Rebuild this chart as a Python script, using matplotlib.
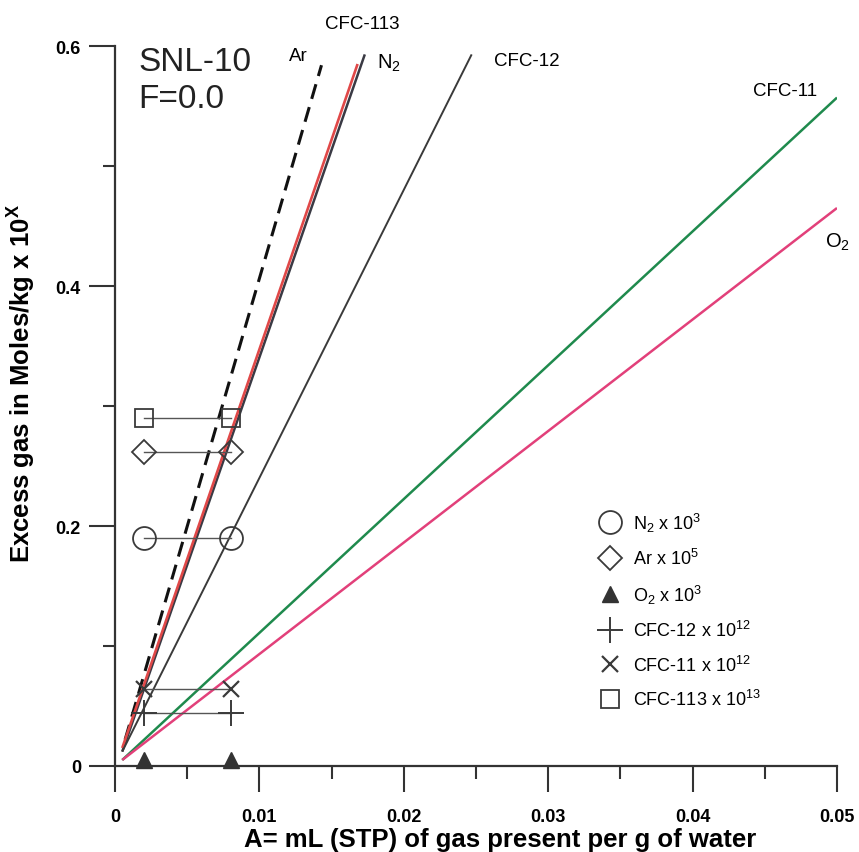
import matplotlib
matplotlib.use('Agg')
import matplotlib.pyplot as plt

plt.rcParams['font.family'] = ['Liberation Sans', 'DejaVu Sans']
plt.rcParams['mathtext.fontset'] = 'custom'
plt.rcParams['mathtext.rm'] = 'Liberation Sans'
plt.rcParams['mathtext.it'] = 'Liberation Sans:italic'
plt.rcParams['mathtext.bf'] = 'Liberation Sans:bold'

# ---------------- data ----------------
line_names = ['Ar', 'N2', 'CFC-113', 'CFC-12', 'CFC-11', 'O2']
line_x_start = [0.0007, 0.0005, 0.0005, 0.0005, 0.0005, 0.0005]
line_y_start = [0.022, 0.012, 0.015, 0.012, 0.005, 0.005]
line_x_end = [0.0143, 0.0173, 0.0168, 0.0247, 0.0500, 0.0500]
line_y_end = [0.584, 0.593, 0.585, 0.593, 0.557, 0.465]

marker_species = ['N2', 'Ar', 'O2', 'CFC-12', 'CFC-11', 'CFC-113']
marker_x = [0.002, 0.008]
marker_y = [0.190, 0.262, 0.005, 0.044, 0.064, 0.290]
legend_labels = [r'N$_2$ x 10$^3$', r'Ar x 10$^5$', r'O$_2$ x 10$^3$',
                 r'CFC-12 x 10$^{12}$', r'CFC-11 x 10$^{12}$', r'CFC-113 x 10$^{13}$']

x_ticks = [0, 0.01, 0.02, 0.03, 0.04, 0.05]
x_tick_labels = ['0', '0.01', '0.02', '0.03', '0.04', '0.05']
y_ticks = [0, 0.2, 0.4, 0.6]
y_tick_labels = ['0', '0.2', '0.4', '0.6']

# ---------------- styles ----------------
line_styles = {
    'Ar': dict(color='#111111', lw=2.2, dashes=(5.0, 2.8)),
    'N2': dict(color='#3a3a44', lw=1.8),
    'CFC-113': dict(color='#e04848', lw=1.9),
    'CFC-12': dict(color='#3a3a3a', lw=1.4),
    'CFC-11': dict(color='#1f8a4d', lw=1.8),
    'O2': dict(color='#e2407a', lw=1.8),
}
mk_col = '#3a3a3a'
marker_styles = {
    'N2': dict(marker='o', ms=16.5, mfc='none', mec=mk_col, mew=1.3),
    'Ar': dict(marker='D', ms=12.5, mfc='none', mec=mk_col, mew=1.3),
    'O2': dict(marker='^', ms=12, mfc='#333333', mec='#333333', mew=1.0),
    'CFC-12': dict(marker='+', ms=19, mec=mk_col, mew=1.4),
    'CFC-11': dict(marker='x', ms=12, mec=mk_col, mew=1.6),
    'CFC-113': dict(marker='s', ms=13, mfc='none', mec=mk_col, mew=1.3),
}

fig = plt.figure(figsize=(8.59, 8.53), dpi=100)
ax = fig.add_axes([115 / 859, 1 - 767 / 853, 722 / 859, 720 / 853])

for i, name in enumerate(line_names):
    ax.plot([line_x_start[i], line_x_end[i]], [line_y_start[i], line_y_end[i]],
            solid_capstyle='butt', zorder=2, **line_styles[name])

handles = []
for i, sp in enumerate(marker_species):
    ys = [marker_y[i], marker_y[i]]
    if sp != 'O2':
        ax.plot(marker_x, ys, color='#555555', lw=1.0, zorder=3)
    h, = ax.plot(marker_x, ys, ls='none', zorder=4, clip_on=False,
                 label=legend_labels[i], **marker_styles[sp])
    handles.append(h)

leg = ax.legend(handles=handles, loc='upper left', bbox_to_anchor=(0.648, 0.375),
                frameon=False, numpoints=1, fontsize=13, handlelength=1.4,
                handletextpad=0.6, labelspacing=0.8, borderpad=0.3)

# line labels
ax.text(0.0171, 0.619, 'CFC-113', fontsize=13.5, ha='center', va='center')
ax.text(0.0127, 0.592, 'Ar', fontsize=13.5, ha='center', va='center')
ax.text(0.0190, 0.586, r'N$_2$', fontsize=14.5, ha='center', va='center')
ax.text(0.0285, 0.588, 'CFC-12', fontsize=13.5, ha='center', va='center')
ax.text(0.0464, 0.563, 'CFC-11', fontsize=13.5, ha='center', va='center')
ax.text(0.0500, 0.437, r'O$_2$', fontsize=14.5, ha='center', va='center', clip_on=False)

ax.text(0.0016, 0.587, 'SNL-10', fontsize=24, ha='left', va='center', color='#222222')
ax.text(0.0016, 0.556, 'F=0.0', fontsize=24, ha='left', va='center', color='#222222')

# axes
ax.set_xlim(0, 0.05)
ax.set_ylim(0, 0.6)
for s in ['top', 'right']:
    ax.spines[s].set_visible(False)
for s in ['left', 'bottom']:
    ax.spines[s].set_linewidth(1.6)
    ax.spines[s].set_color('#333333')

ax.set_xticks(x_ticks)
ax.set_xticklabels(x_tick_labels)
ax.set_yticks(y_ticks)
ax.set_yticklabels(y_tick_labels)
ax.set_xticks([0.005, 0.015, 0.025, 0.035, 0.045], minor=True)
ax.set_yticks([0.1, 0.3, 0.5], minor=True)
ax.tick_params(which='major', direction='out', length=18.5, width=1.5, color='#333333')
ax.tick_params(which='minor', direction='out', length=9, width=1.5, color='#333333')
ax.tick_params(axis='x', which='major', pad=12, labelsize=13)
ax.tick_params(axis='y', which='major', pad=6, labelsize=13)
for lab in ax.get_xticklabels() + ax.get_yticklabels():
    lab.set_fontweight('bold')

fig.text(500 / 859, 1 - 840 / 853, 'A= mL (STP) of gas present per g of water',
         fontsize=18.5, fontweight='bold', ha='center', va='center')
fig.text(22 / 859, 1 - 383 / 853, r'Excess gas in Moles/kg x 10$^\mathbf{X}$',
         fontsize=18.5, fontweight='bold', ha='center', va='center', rotation=90)

fig.savefig('out.png', dpi=100)
